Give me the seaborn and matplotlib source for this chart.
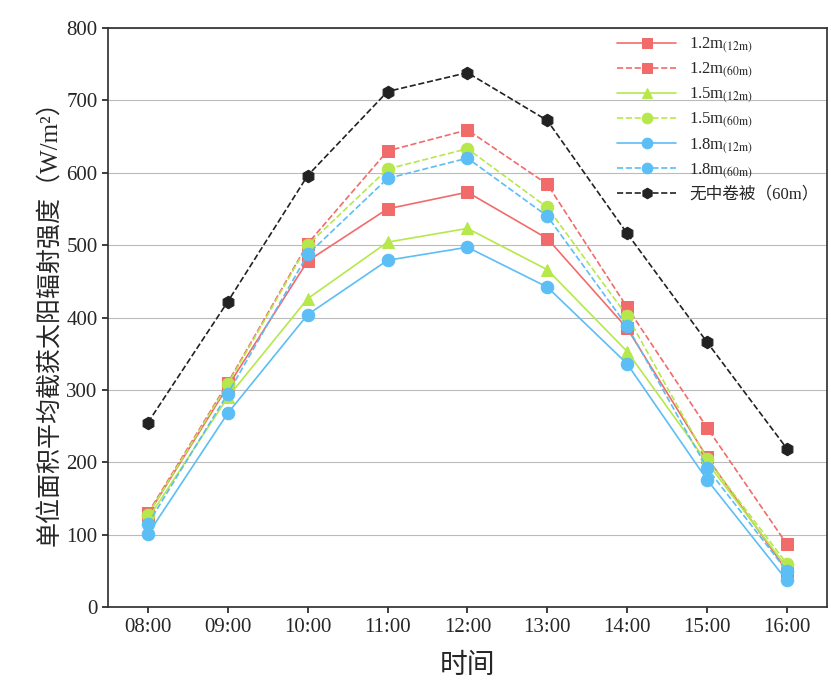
import matplotlib
matplotlib.use('Agg')
import matplotlib.pyplot as plt
import seaborn as sns
import pandas as pd

sns.set_theme(style='white')
plt.rcParams['font.family'] = ['Liberation Serif', 'Noto Sans CJK SC']
plt.rcParams['mathtext.fontset'] = 'stix'

times = ['08:00', '09:00', '10:00', '11:00', '12:00', '13:00', '14:00', '15:00', '16:00']
r12_12 = [128, 305, 478, 550, 573, 509, 385, 207, 50]
r12_60 = [130, 310, 502, 630, 659, 584, 414, 248, 87]
r15_12 = [122, 290, 426, 504, 523, 466, 353, 200, 55]
r15_60 = [128, 308, 500, 605, 633, 552, 402, 205, 60]
r18_12 = [101, 268, 404, 479, 497, 442, 336, 176, 37]
r18_60 = [115, 295, 487, 592, 620, 540, 388, 192, 50]
none_60 = [255, 422, 596, 712, 738, 672, 516, 366, 219]

series = [
    ('1.2m$_{\\mathrm{(12m)}}$', r12_12, '#F26B6B', '-', 's'),
    ('1.2m$_{\\mathrm{(60m)}}$', r12_60, '#F26B6B', '--', 's'),
    ('1.5m$_{\\mathrm{(12m)}}$', r15_12, '#B6E84C', '-', '^'),
    ('1.5m$_{\\mathrm{(60m)}}$', r15_60, '#B6E84C', '--', 'o'),
    ('1.8m$_{\\mathrm{(12m)}}$', r18_12, '#5BBEF5', '-', 'o'),
    ('1.8m$_{\\mathrm{(60m)}}$', r18_60, '#5BBEF5', '--', 'o'),
    ('无中卷被（60m）', none_60, '#222222', '--', 'h'),
]

fig, ax = plt.subplots(figsize=(8.31, 6.94), dpi=100)
x = list(range(len(times)))
for label, vals, color, ls, mk in series:
    df = pd.DataFrame({'t': x, 'v': vals})
    sns.lineplot(data=df, x='t', y='v', ax=ax, color=color, linestyle=ls, marker=mk,
                 markersize=9, markeredgecolor=color, linewidth=1.2, label=label)

ax.set_xticks(x)
ax.set_xticklabels(times)
ax.set_xlim(-0.5, 8.5)
ax.set_ylim(0, 800)
ax.set_yticks(range(0, 801, 100))
ax.yaxis.grid(True, color='#bbbbbb', linewidth=0.8)
ax.tick_params(labelsize=15, direction='out', length=4, left=True, bottom=True)
for s in ax.spines.values():
    s.set_color('#333333')
ax.set_xlabel('时间', fontsize=20, labelpad=12)
ax.set_ylabel('单位面积平均截获太阳辐射强度（W/m²）', fontsize=18)
leg = ax.legend(loc='upper right', frameon=False, fontsize=12, handlelength=3.5,
                labelspacing=0.35, borderaxespad=0.1, markerscale=0.85)
plt.subplots_adjust(left=0.13, right=0.995, top=0.96, bottom=0.125)
fig.savefig('out.png')
